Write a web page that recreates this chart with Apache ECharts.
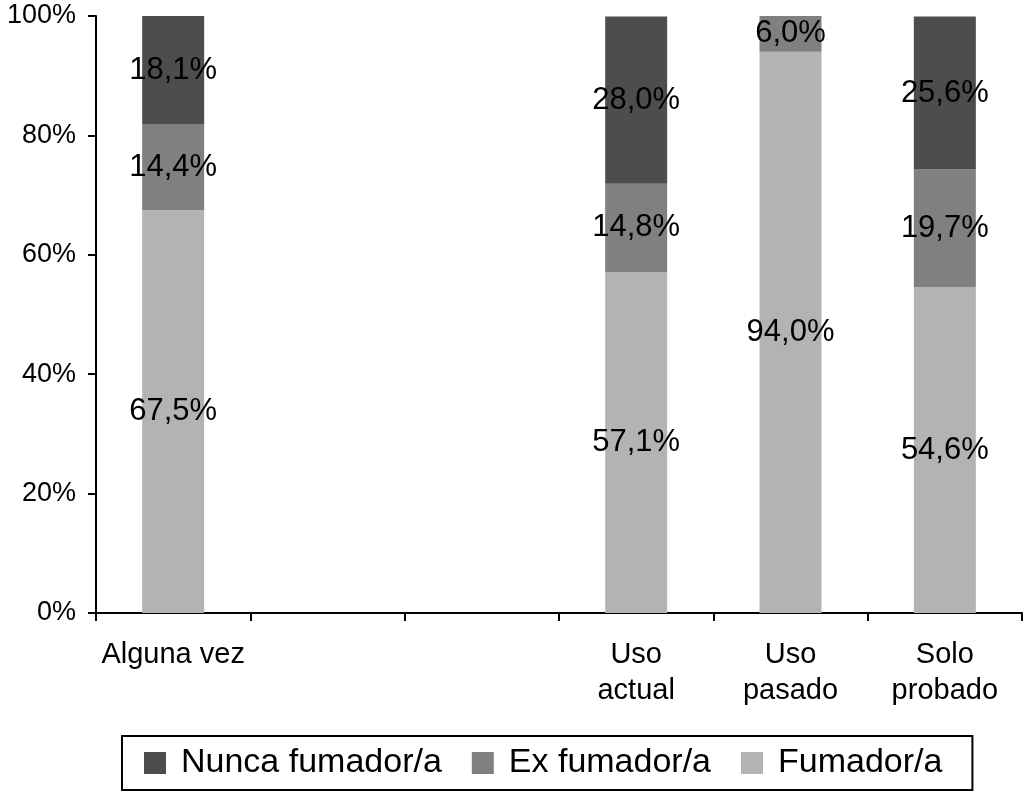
<!DOCTYPE html>
<html>
<head>
<meta charset="utf-8">
<script src="https://cdn.jsdelivr.net/npm/echarts@6/dist/echarts.min.js"></script>
<style>html,body{margin:0;padding:0;background:#fff}#c{width:1024px;height:792px}</style>
</head>
<body>
<div id="c"></div>
<script>
const categories = ["Alguna vez", "", "", "Uso\nactual", "Uso\npasado", "Solo\nprobado"];
const fumador = [67.5, null, null, 57.1, 94.0, 54.6];
const exFumador = [14.4, null, null, 14.8, 6.0, 19.7];
const nuncaFumador = [18.1, null, null, 28.0, null, 25.6];
const yTicks = [0, 20, 40, 60, 80, 100];

const FONT = 'Liberation Sans, Arial, Helvetica, sans-serif';
const chart = echarts.init(document.getElementById('c'));
const lbl = {
  show: true, position: 'inside', color: '#000', fontFamily: FONT, fontSize: 31,
  formatter: p => p.value == null ? '' : p.value.toFixed(1).replace('.', ',') + '%'
};
function mk(name, data, color) {
  return { name, type: 'bar', stack: 's', data, barWidth: 62,
    itemStyle: { color }, label: lbl, emphasis: { disabled: true } };
}
chart.setOption({
  animation: false,
  textStyle: { fontFamily: FONT },
  grid: { left: 96, right: 2, top: 16, bottom: 179, containLabel: false },
  xAxis: {
    type: 'category', data: categories,
    axisLine: { lineStyle: { color: '#000', width: 2 } },
    axisTick: { show: true, length: 8, lineStyle: { color: '#000', width: 2 } },
    axisLabel: { color: '#000', fontSize: 29, margin: 24, lineHeight: 36, fontFamily: FONT, interval: 0 }
  },
  yAxis: {
    type: 'value', min: yTicks[0], max: yTicks[yTicks.length - 1], interval: 20,
    axisLine: { show: true, lineStyle: { color: '#000', width: 2 } },
    axisTick: { show: true, length: 8, lineStyle: { color: '#000', width: 2 } },
    splitLine: { show: false },
    axisLabel: { color: '#000', fontSize: 27, margin: 20, fontFamily: FONT, formatter: '{value}%' }
  },
  legend: {
    data: ['Nunca fumador/a', 'Ex fumador/a', 'Fumador/a'],
    bottom: 2, left: 122,
    borderColor: '#000', borderWidth: 2, borderRadius: 0,
    padding: [10, 30, 10, 22],
    itemWidth: 22, itemHeight: 22, itemGap: 30,
    textStyle: { color: '#000', fontSize: 34, fontFamily: FONT, padding: [0, 0, 0, 10] },
    icon: 'rect'
  },
  series: [
    mk('Fumador/a', fumador, '#b3b3b3'),
    mk('Ex fumador/a', exFumador, '#808080'),
    mk('Nunca fumador/a', nuncaFumador, '#4d4d4d')
  ]
});
</script>
</body>
</html>
